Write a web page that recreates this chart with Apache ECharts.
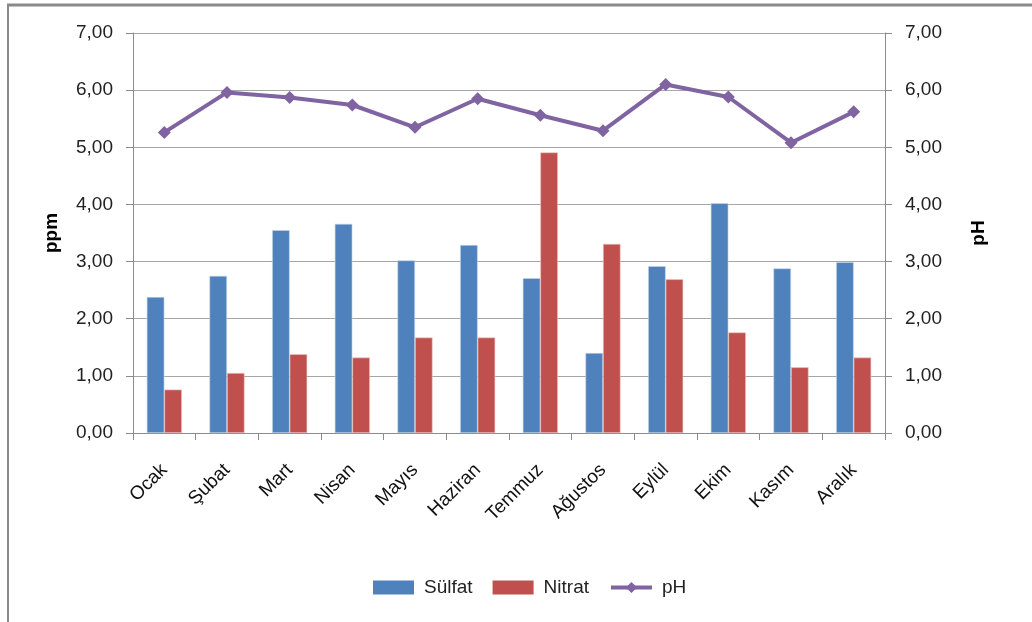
<!DOCTYPE html>
<html>
<head>
<meta charset="utf-8">
<script src="https://cdn.jsdelivr.net/npm/echarts@6/dist/echarts.min.js"></script>
<style>
  html, body { margin: 0; padding: 0; background: #fff; }
  #chart { width: 1032px; height: 622px; }
</style>
</head>
<body>
<div id="chart"></div>
<script>
// Monthly measurements
const months = ['Ocak', 'Şubat', 'Mart', 'Nisan', 'Mayıs', 'Haziran', 'Temmuz', 'Ağustos', 'Eylül', 'Ekim', 'Kasım', 'Aralık'];
const sulfat = [2.38, 2.75, 3.55, 3.66, 3.02, 3.29, 2.71, 1.40, 2.92, 4.02, 2.88, 2.99];
const nitrat = [0.76, 1.05, 1.38, 1.32, 1.67, 1.67, 4.91, 3.31, 2.69, 1.76, 1.15, 1.32];
const ph = [5.26, 5.96, 5.87, 5.74, 5.35, 5.85, 5.56, 5.29, 6.10, 5.88, 5.08, 5.62];

const FONT = '"Liberation Sans", Arial, sans-serif';
const fmt = v => v.toFixed(2).replace('.', ',');

const yAxisBase = {
  type: 'value',
  min: 0,
  max: 7,
  interval: 1,
  nameLocation: 'middle',
  nameRotate: 90,
  nameTextStyle: { fontFamily: FONT, fontSize: 19, fontWeight: 'bold', color: '#000' },
  axisLine: { show: true, lineStyle: { color: '#8c8c8c', width: 1 } },
  axisTick: { show: true, length: 7, lineStyle: { color: '#8c8c8c' } },
  axisLabel: { formatter: fmt, fontFamily: FONT, fontSize: 19, color: '#222', margin: 20 }
};

const chart = echarts.init(document.getElementById('chart'), null, { renderer: 'canvas' });
chart.setOption({
  animation: false,
  backgroundColor: '#fff',
  textStyle: { fontFamily: FONT },
  grid: { left: 133, right: 147, top: 33, bottom: 189, containLabel: false },
  legend: {
    bottom: 20,
    left: 368,
    itemGap: 20,
    itemWidth: 41,
    itemHeight: 14,
    textStyle: { fontFamily: FONT, fontSize: 19, color: '#222', padding: [0, 0, 0, 5] },
    data: [
      { name: 'Sülfat', icon: 'rect', itemStyle: { borderWidth: 0 } },
      { name: 'Nitrat', icon: 'rect', itemStyle: { borderWidth: 0 } },
      { name: 'pH', lineStyle: { width: 4 } }
    ]
  },
  xAxis: {
    type: 'category',
    data: months,
    axisLine: { lineStyle: { color: '#8c8c8c' } },
    axisTick: { show: true, alignWithLabel: false, length: 7, lineStyle: { color: '#8c8c8c' } },
    axisLabel: { rotate: 45, interval: 0, fontFamily: FONT, fontSize: 19, color: '#111', margin: 34 }
  },
  yAxis: [
    Object.assign({}, yAxisBase, {
      name: 'ppm',
      nameGap: 72,
      position: 'left',
      splitLine: { show: true, lineStyle: { color: '#a6a6a6', width: 1 } }
    }),
    Object.assign({}, yAxisBase, {
      name: 'pH',
      nameGap: 84,
      position: 'right',
      splitLine: { show: false }
    })
  ],
  series: [
    {
      name: 'Sülfat',
      type: 'bar',
      data: sulfat,
      barGap: '0%',
      barCategoryGap: '44%',
      itemStyle: { color: '#4F81BD', borderColor: '#c8d6ea', borderWidth: 0.6 }
    },
    {
      name: 'Nitrat',
      type: 'bar',
      data: nitrat,
      barGap: '0%',
      barCategoryGap: '44%',
      itemStyle: { color: '#C0504D', borderColor: '#ecc9c8', borderWidth: 0.6 }
    },
    {
      name: 'pH',
      type: 'line',
      yAxisIndex: 1,
      data: ph,
      symbol: 'diamond',
      symbolSize: 13,
      lineStyle: { color: '#8064A2', width: 4 },
      itemStyle: { color: '#8064A2' }
    }
  ],
  graphic: [
    { type: 'line', shape: { x1: 7, y1: 5, x2: 1032, y2: 5 }, style: { stroke: '#8a8a8a', lineWidth: 3 } },
    { type: 'line', shape: { x1: 8, y1: 4, x2: 8, y2: 622 }, style: { stroke: '#8a8a8a', lineWidth: 2 } }
  ]
});
</script>
</body>
</html>
